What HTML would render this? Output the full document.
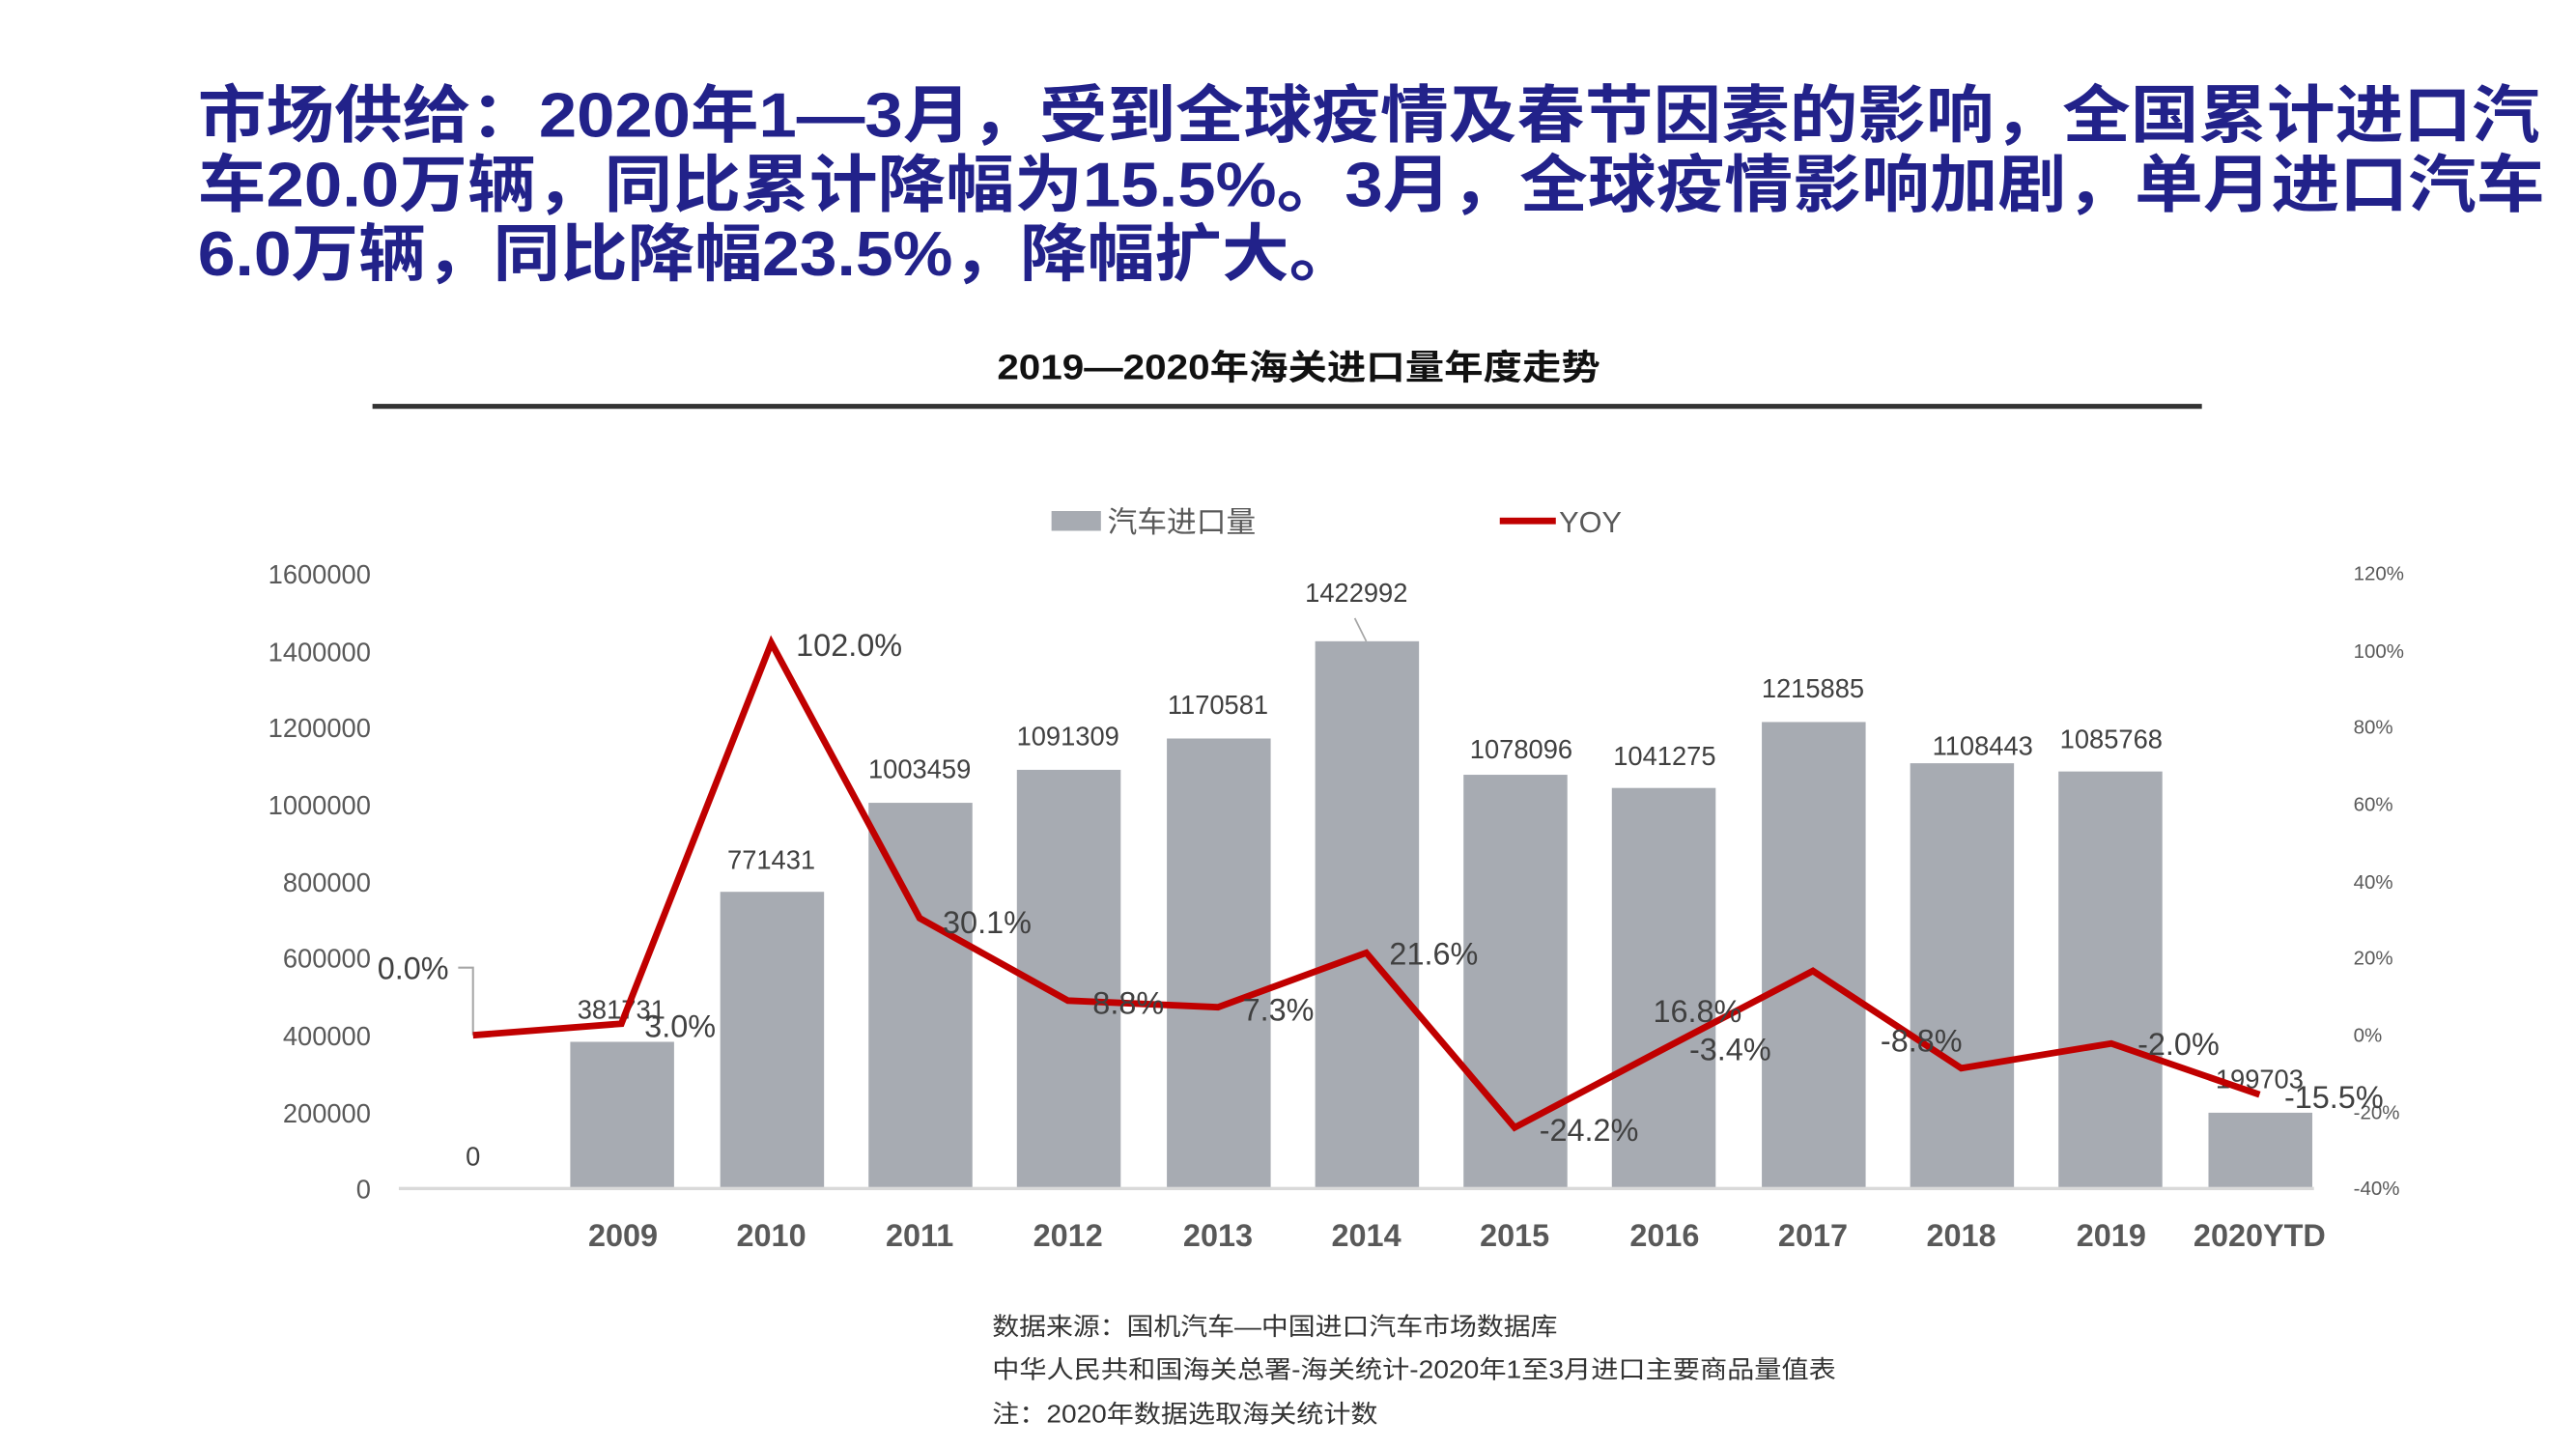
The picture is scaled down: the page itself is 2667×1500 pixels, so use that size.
<!DOCTYPE html>
<html><head><meta charset="utf-8"><style>html,body{margin:0;padding:0;background:#fff}svg{display:block}</style></head>
<body>
<svg width="2667" height="1500" viewBox="0 0 1563 879" preserveAspectRatio="none" xmlns="http://www.w3.org/2000/svg" font-family="'Liberation Sans','Noto Sans CJK SC',sans-serif">
<g fill="#22228a" font-weight="bold" font-size="38">
<text x="120" y="83" textLength="1421" lengthAdjust="spacingAndGlyphs">市场供给：2020年1—3月，受到全球疫情及春节因素的影响，全国累计进口汽</text>
<text x="120" y="125" textLength="1424" lengthAdjust="spacingAndGlyphs">车20.0万辆，同比累计降幅为15.5%。3月，全球疫情影响加剧，单月进口汽车</text>
<text x="120" y="167" textLength="703" lengthAdjust="spacingAndGlyphs">6.0万辆，同比降幅23.5%，降幅扩大。</text>
</g>
<text x="605" y="230" font-size="21" font-weight="bold" fill="#111" textLength="366" lengthAdjust="spacingAndGlyphs">2019—2020年海关进口量年度走势</text>
<rect x="226" y="245" width="1110" height="3" fill="#333"/>
<rect x="638" y="310" width="30" height="12" fill="#a7abb2"/>
<text x="672" y="323" font-size="18" fill="#595959">汽车进口量</text>
<rect x="910" y="314" width="34" height="4" fill="#c00000"/>
<text x="946" y="323" font-size="18" fill="#595959">YOY</text>
<g font-size="16" fill="#595959" text-anchor="end">
<text x="225" y="354">1600000</text><text x="225" y="401">1400000</text><text x="225" y="447">1200000</text><text x="225" y="494">1000000</text><text x="225" y="541">800000</text><text x="225" y="587">600000</text><text x="225" y="634">400000</text><text x="225" y="681">200000</text><text x="225" y="727">0</text>
</g>
<g font-size="12" fill="#595959">
<text x="1428" y="352">120%</text><text x="1428" y="399">100%</text><text x="1428" y="445">80%</text><text x="1428" y="492">60%</text><text x="1428" y="539">40%</text><text x="1428" y="585">20%</text><text x="1428" y="632">0%</text><text x="1428" y="679">-20%</text><text x="1428" y="725">-40%</text>
</g>
<g fill="#a7abb2">
<rect x="346" y="632" width="63" height="89"/>
<rect x="437" y="541" width="63" height="180"/>
<rect x="527" y="487" width="63" height="234"/>
<rect x="617" y="467" width="63" height="254"/>
<rect x="708" y="448" width="63" height="273"/>
<rect x="798" y="389" width="63" height="332"/>
<rect x="888" y="470" width="63" height="251"/>
<rect x="978" y="478" width="63" height="243"/>
<rect x="1069" y="438" width="63" height="283"/>
<rect x="1159" y="463" width="63" height="258"/>
<rect x="1249" y="468" width="63" height="253"/>
<rect x="1340" y="675" width="63" height="46"/>
</g>
<rect x="242" y="720" width="1162" height="2" fill="#d9d9d9"/>
<g font-size="16" fill="#404040" text-anchor="middle">
<text x="287" y="707">0</text><text x="377" y="618">381731</text><text x="468" y="527">771431</text><text x="558" y="472">1003459</text><text x="648" y="452">1091309</text><text x="739" y="433">1170581</text><text x="823" y="365">1422992</text><text x="923" y="460">1078096</text><text x="1010" y="464">1041275</text><text x="1100" y="423">1215885</text><text x="1203" y="458">1108443</text><text x="1281" y="454">1085768</text><text x="1371" y="660">199703</text>
</g>
<line x1="822" y1="375" x2="829" y2="389" stroke="#a6a6a6" stroke-width="1"/>
<polyline points="278,587 287,587 287,628" fill="none" stroke="#a6a6a6" stroke-width="1.2"/>
<polyline points="287,628 377,621 468,390 558,557 648,607 739,611 829,578 919,684 1010,636 1100,589 1190,648 1281,633 1371,664" fill="none" stroke="#c00000" stroke-width="4" stroke-linejoin="miter"/>
<g font-size="19" fill="#404040">
<text x="229" y="594">0.0%</text><text x="391" y="629">3.0%</text><text x="483" y="398">102.0%</text><text x="572" y="566">30.1%</text><text x="663" y="615">8.8%</text><text x="754" y="619">7.3%</text><text x="843" y="585">21.6%</text><text x="934" y="692">-24.2%</text><text x="1003" y="620">16.8%</text><text x="1025" y="643">-3.4%</text><text x="1141" y="638">-8.8%</text><text x="1297" y="640">-2.0%</text><text x="1386" y="672">-15.5%</text>
</g>
<g font-size="19" font-weight="bold" fill="#595959" text-anchor="middle">
<text x="378" y="756">2009</text><text x="468" y="756">2010</text><text x="558" y="756">2011</text><text x="648" y="756">2012</text><text x="739" y="756">2013</text><text x="829" y="756">2014</text><text x="919" y="756">2015</text><text x="1010" y="756">2016</text><text x="1100" y="756">2017</text><text x="1190" y="756">2018</text><text x="1281" y="756">2019</text><text x="1371" y="756">2020YTD</text>
</g>
<g font-size="15" fill="#333">
<text x="602" y="810" textLength="343" lengthAdjust="spacingAndGlyphs">数据来源：国机汽车—中国进口汽车市场数据库</text>
<text x="602" y="836" textLength="512" lengthAdjust="spacingAndGlyphs">中华人民共和国海关总署-海关统计-2020年1至3月进口主要商品量值表</text>
<text x="602" y="863" textLength="234" lengthAdjust="spacingAndGlyphs">注：2020年数据选取海关统计数</text>
</g>
</svg>
</body></html>
